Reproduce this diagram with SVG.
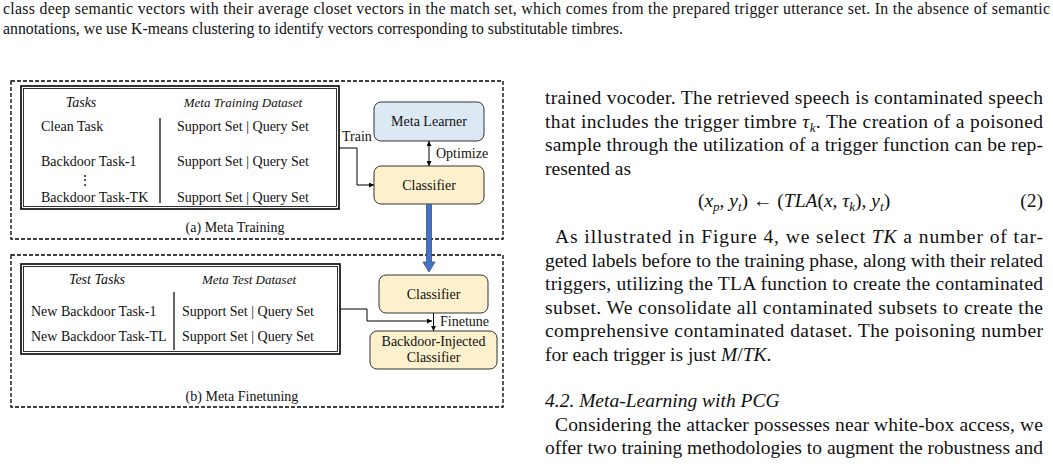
<svg xmlns="http://www.w3.org/2000/svg" width="1053" height="467" viewBox="0 0 1053 467">
<style>
.t{font-family:"Liberation Serif","Times New Roman",serif;font-size:14px;fill:#111}
.i{font-style:italic}
.h{font-size:13px;font-style:italic}
.body{font-family:"Liberation Serif","Times New Roman",serif;font-size:19.5px;fill:#111}
.cap{font-family:"Liberation Serif","Times New Roman",serif;font-size:15.8px;fill:#111}
.dash{fill:none;stroke:#000;stroke-width:1.3;stroke-dasharray:4 2}
.fo{fill:#fff;stroke:#000;stroke-width:1.6}
.fi{fill:none;stroke:#000;stroke-width:0.8}
.sep{stroke:#222;stroke-width:1.4}
.blue{fill:#dde8f5;stroke:#333;stroke-width:1}
.yel{fill:#fdf0cd;stroke:#333;stroke-width:1}
.conn{fill:none;stroke:#000;stroke-width:1}
</style>
<defs>
<marker id="ah" viewBox="0 0 10 10" refX="10" refY="5" markerWidth="5" markerHeight="5" markerUnits="userSpaceOnUse" orient="auto-start-reverse">
<path d="M0,0 L10,5 L0,10 z" fill="#000"/>
</marker>
</defs>
<rect width="1053" height="467" fill="#fff"/>

<g id="page-text">
<text class="cap" x="3" y="14" textLength="1047" lengthAdjust="spacing">class deep semantic vectors with their average closet vectors in the match set, which comes from the prepared trigger utterance set. In the absence of semantic</text>
<text class="cap" x="3" y="34">annotations, we use K-means clustering to identify vectors corresponding to substitutable timbres.</text>

<text class="body" x="545" y="104" textLength="498">trained vocoder. The retrieved speech is contaminated speech</text>
<text class="body" x="545" y="127.5" textLength="498">that includes the trigger timbre <tspan class="i">τ</tspan><tspan class="i" font-size="13" dy="4">k</tspan><tspan dy="-4">. The creation of a poisoned</tspan></text>
<text class="body" x="545" y="151" textLength="498">sample through the utilization of a trigger function can be rep-</text>
<text class="body" x="545" y="174.5">resented as</text>
<text class="body" x="794" y="207" text-anchor="middle">(<tspan class="i">x</tspan><tspan class="i" font-size="13" dy="4">p</tspan><tspan dy="-4">, </tspan><tspan class="i">y</tspan><tspan class="i" font-size="13" dy="4">t</tspan><tspan dy="-4">) ← (</tspan><tspan class="i">TLA</tspan>(<tspan class="i">x</tspan>, <tspan class="i">τ</tspan><tspan class="i" font-size="13" dy="4">k</tspan><tspan dy="-4">), </tspan><tspan class="i">y</tspan><tspan class="i" font-size="13" dy="4">t</tspan><tspan dy="-4">)</tspan></text>
<text class="body" x="1043" y="207" text-anchor="end">(2)</text>
<text class="body" x="555" y="243" textLength="488">As illustrated in Figure 4, we select <tspan class="i">TK</tspan> a number of tar-</text>
<text class="body" x="545" y="266.5" textLength="498">geted labels before to the training phase, along with their related</text>
<text class="body" x="545" y="290" textLength="498">triggers, utilizing the TLA function to create the contaminated</text>
<text class="body" x="545" y="313.5" textLength="498">subset. We consolidate all contaminated subsets to create the</text>
<text class="body" x="545" y="337" textLength="498">comprehensive contaminated dataset. The poisoning number</text>
<text class="body" x="545" y="360.5">for each trigger is just <tspan class="i">M</tspan>/<tspan class="i">TK</tspan>.</text>
<text class="body i" x="545" y="407">4.2. Meta-Learning with PCG</text>
<text class="body" x="555" y="430.5" textLength="488">Considering the attacker possesses near white-box access, we</text>
<text class="body" x="545" y="454" textLength="498">offer two training methodologies to augment the robustness and</text>
</g>

<g id="meta-training">
<rect class="dash" x="11" y="81" width="492" height="158"/>
<text class="t" x="235" y="232" text-anchor="middle">(a) Meta Training</text>
</g>

<g id="meta-training-dataset">
<rect class="fo" x="21" y="86" width="318" height="123"/>
<rect class="fi" x="23.5" y="88.5" width="313" height="118"/>
<text class="t i" x="81" y="107" text-anchor="middle">Tasks</text>
<text class="t h" x="243" y="107" text-anchor="middle">Meta Training Dataset</text>
<text class="t" x="41" y="131">Clean Task</text>
<text class="t" x="41" y="166">Backdoor Task-1</text>
<text class="t" x="85" y="185" text-anchor="middle">⋮</text>
<text class="t" x="41" y="202">Backdoor Task-TK</text>
<line class="sep" x1="160" y1="118" x2="160" y2="203"/>
<text class="t" x="177" y="131">Support Set | Query Set</text>
<text class="t" x="177" y="166">Support Set | Query Set</text>
<text class="t" x="177" y="202">Support Set | Query Set</text>
</g>

<g id="meta-learner">
<rect class="blue" x="374" y="102" width="110" height="39" rx="7"/>
<text class="t" x="429" y="126" text-anchor="middle">Meta Learner</text>
</g>

<g id="classifier-a">
<rect class="yel" x="374" y="166" width="110" height="38" rx="7"/>
<text class="t" x="429" y="190" text-anchor="middle">Classifier</text>
</g>

<g id="meta-finetuning">
<rect class="dash" x="11" y="255" width="492" height="152"/>
<text class="t" x="242" y="401" text-anchor="middle">(b) Meta Finetuning</text>
</g>

<g id="meta-test-dataset">
<rect class="fo" x="21" y="264" width="319" height="90"/>
<rect class="fi" x="23.5" y="266.5" width="314" height="85"/>
<text class="t i" x="97" y="284" text-anchor="middle">Test Tasks</text>
<text class="t h" x="249" y="284" text-anchor="middle">Meta Test Dataset</text>
<text class="t" x="31" y="316">New Backdoor Task-1</text>
<text class="t" x="31" y="341">New Backdoor Task-TL</text>
<line class="sep" x1="174" y1="292" x2="174" y2="350"/>
<text class="t" x="182" y="316">Support Set | Query Set</text>
<text class="t" x="182" y="341">Support Set | Query Set</text>
</g>

<g id="classifier-b">
<rect class="yel" x="379" y="275" width="109" height="38" rx="7"/>
<text class="t" x="433.5" y="299" text-anchor="middle">Classifier</text>
</g>

<g id="backdoor-injected-classifier">
<rect class="yel" x="370" y="331" width="127" height="38" rx="7"/>
<text class="t" x="433.5" y="346" text-anchor="middle">Backdoor-Injected</text>
<text class="t" x="433.5" y="362" text-anchor="middle">Classifier</text>
</g>

<g id="connectors">
<path class="conn" d="M339,148 H357 V185 H374" marker-end="url(#ah)"/>
<text class="t" x="342" y="141">Train</text>
<line class="conn" x1="429" y1="141" x2="429" y2="166" marker-start="url(#ah)" marker-end="url(#ah)"/>
<text class="t" x="436" y="158">Optimize</text>
<path d="M426.5,204.5 H431.5 V262 H435 L429,272 L423,262 H426.5 Z" fill="#4472c4" stroke="#2f528f" stroke-width="0.8"/>
<path class="conn" d="M340,309 H367 V321 H432" marker-end="url(#ah)"/>
<line class="conn" x1="433.5" y1="313" x2="433.5" y2="331" marker-end="url(#ah)"/>
<text class="t" x="440" y="326">Finetune</text>
</g>
</svg>
